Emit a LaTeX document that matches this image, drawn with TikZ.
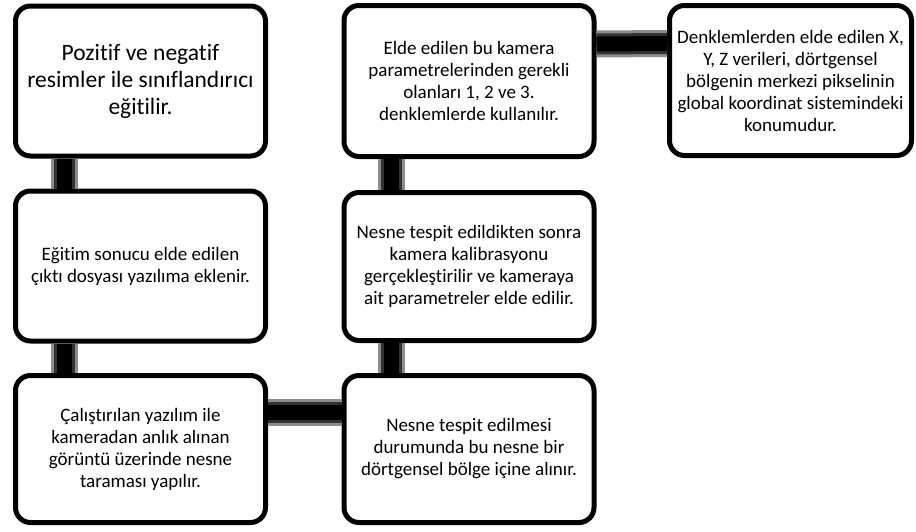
\documentclass[tikz,border=0pt]{standalone}
\usepackage{fontspec}
\setmainfont[Ligatures=NoCommon]{Carlito}
\begin{document}
\begin{tikzpicture}[x=1pt,y=-1pt,
  stepbox/.style={draw=black, fill=white, line width=5pt, rounded corners=15pt,
    minimum width=250pt, minimum height=150pt, align=center, inner sep=0pt,
    font=\fontsize{19}{22}\selectfont},
  bigtext/.style={font=\fontsize{23.5}{27}\selectfont},
  pipe/.style={draw=black!45, line width=27pt,
    postaction={draw=black!80, line width=21pt},
    postaction={draw=black, line width=15pt}}]
\useasboundingbox (0,0) rectangle (916,531);

% boxes are placed first so that the pipes can be anchored to them
\node[stepbox, bigtext] (b1) at (140.5,81) {Pozitif ve negatif\\resimler ile sınıflandırıcı\\eğitilir.};
\node[stepbox, minimum height=150pt] (b2) at (140.5,266) {Eğitim sonucu elde edilen\\çıktı dosyası yazılıma eklenir.};
\node[stepbox, minimum height=147pt] (b3) at (140.5,449) {Çalıştırılan yazılım ile\\kameradan anlık alınan\\görüntü üzerinde nesne\\taraması yapılır.};
\node[stepbox, minimum height=151pt] (b4) at (469,81) {Elde edilen bu kamera\\parametrelerinden gerekli\\olanları 1, 2 ve 3.\\denklemlerde kullanılır.};
\node[stepbox, minimum height=148pt] (b5) at (469,266.5) {Nesne tespit edildikten sonra\\kamera kalibrasyonu\\gerçekleştirilir ve kameraya\\ait parametreler elde edilir.};
\node[stepbox, minimum height=147pt] (b6) at (469,449) {Nesne tespit edilmesi\\durumunda bu nesne bir\\dörtgensel bölge içine alınır.};
\node[stepbox, minimum width=242pt, minimum height=150pt] (b7) at (790.5,80.5) {Denklemlerden elde edilen X,\\Y, Z verileri, dörtgensel\\bölgenin merkezi pikselinin\\global koordinat sistemindeki\\konumudur.};

% pipes between the boxes (drawn after, their ends meet the box borders)
\draw[pipe] ([xshift=51.5pt]b1.south west) -- ([xshift=51.5pt]b2.north west);
\draw[pipe] ([xshift=51.5pt]b2.south west) -- ([xshift=51.5pt]b3.north west);
\draw[pipe] ([yshift=37pt]b3.east) -- ([yshift=37pt]b6.west);
\draw[pipe] ([xshift=50pt]b6.north west) -- ([xshift=50pt]b5.south west);
\draw[pipe] ([xshift=50pt]b5.north west) -- ([xshift=50pt]b4.south west);
\draw[pipe] ([yshift=37pt]b4.east) -- ([yshift=37pt]b7.west);
\end{tikzpicture}
\end{document}
